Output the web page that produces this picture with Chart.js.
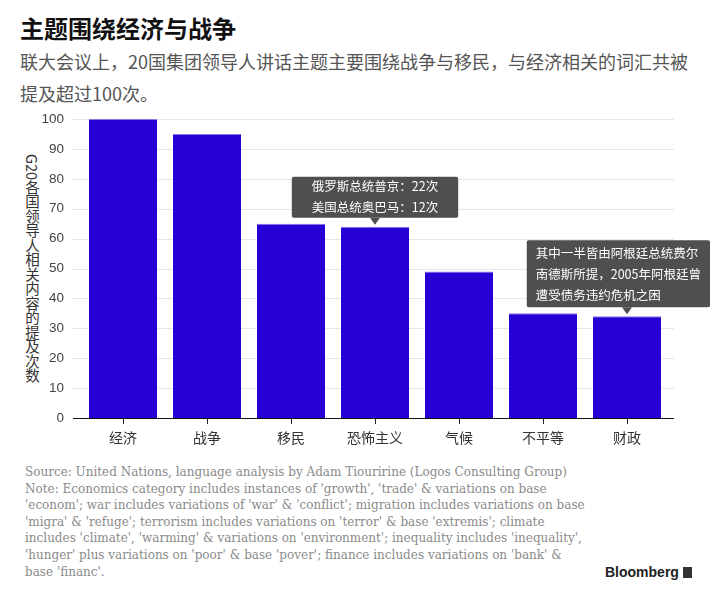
<!DOCTYPE html>
<html>
<head>
<meta charset="utf-8">
<script src="https://cdn.jsdelivr.net/npm/chart.js@4"></script>
<style>
  body { margin: 0; background: #fff; width: 720px; height: 607px; position: relative; overflow: hidden;
         font-family: "Noto Sans CJK SC", "Liberation Sans", sans-serif; }
  #title { position: absolute; left: 20px; top: 10px; font-size: 24px; font-weight: bold; color: #111; }
  #subtitle { position: absolute; left: 20px; top: 45px; font-size: 18px; line-height: 32px; color: #555; }
  #ytitle { position: absolute; left: 22px; top: 154px; writing-mode: vertical-rl; font-size: 14.5px; color: #333; }
  #wrap { position: absolute; left: 0; top: 100px; width: 720px; height: 360px; }
  #notes { position: absolute; left: 25px; top: 464px; font-family: "DejaVu Serif", serif; font-size: 12px;
           line-height: 16.6px; color: #8a8a8a; white-space: pre; }
  #logo { position: absolute; left: 605px; top: 564px; font-family: "Liberation Sans", sans-serif; font-weight: bold;
          font-size: 14px; color: #222; }
  #logo span { display: inline-block; width: 9px; height: 11px; background: #333; margin-left: 4px; vertical-align: -1px; }
</style>
</head>
<body>
<div id="title">主题围绕经济与战争</div>
<div id="subtitle">联大会议上，20国集团领导人讲话主题主要围绕战争与移民，与经济相关的词汇共被<br>提及超过100次。</div>
<div id="ytitle">G20各国领导人相关内容的提及次数</div>
<div id="wrap"><canvas id="barChart"></canvas></div>
<div id="notes">Source: United Nations, language analysis by Adam Tiouririne (Logos Consulting Group)
Note: Economics category includes instances of 'growth', 'trade' &amp; variations on base
'econom'; war includes variations of 'war' &amp; 'conflict'; migration includes variations on base
'migra' &amp; 'refuge'; terrorism includes variations on 'terror' &amp; base 'extremis'; climate
includes 'climate', 'warming' &amp; variations on 'environment'; inequality includes 'inequality',
'hunger' plus variations on 'poor' &amp; base 'pover'; finance includes variations on 'bank' &amp;
base 'financ'.</div>
<div id="logo">Bloomberg<span></span></div>
<script>
const categories = ["经济", "战争", "移民", "恐怖主义", "气候", "不平等", "财政"]
const mentions = [100, 95, 65, 64, 49, 35, 34]
const yTicks = [0, 10, 20, 30, 40, 50, 60, 70, 80, 90, 100]

const calloutIndex = [3, 6]
const calloutText = [
  ["俄罗斯总统普京：22次", "美国总统奥巴马：12次"],
  ["其中一半皆由阿根廷总统费尔", "南德斯所提，2005年阿根廷曾", "遭受债务违约危机之困"]
]

// horizontal grid lines, a bit wider than the bars
const gridLines = {
  id: 'gridLines',
  beforeDatasetsDraw(chart) {
    const { ctx, chartArea, scales } = chart
    ctx.save()
    ctx.strokeStyle = '#e6e6e6'
    ctx.lineWidth = 1
    yTicks.forEach(v => {
      if (v === 0) return
      const y = Math.round(scales.y.getPixelForValue(v)) + 0.5
      ctx.beginPath()
      ctx.moveTo(chartArea.left - 8, y)
      ctx.lineTo(chartArea.right + 5, y)
      ctx.stroke()
    })
    ctx.restore()
  },
  afterDatasetsDraw(chart) {
    const { ctx, chartArea, scales } = chart
    const y = Math.round(scales.y.getPixelForValue(0)) + 0.5
    ctx.save()
    ctx.strokeStyle = '#111'
    ctx.beginPath()
    ctx.moveTo(chartArea.left - 8, y)
    ctx.lineTo(chartArea.right + 5, y)
    ctx.stroke()
    ctx.restore()
  }
}

// dark callout boxes pointing at a bar
const callouts = {
  id: 'callouts',
  afterDraw(chart) {
    const { ctx } = chart
    const meta = chart.getDatasetMeta(0)
    ctx.save()
    ctx.font = '12.5px "Noto Sans CJK SC", sans-serif'
    calloutIndex.forEach((idx, n) => {
      const bar = meta.data[idx]
      const lines = calloutText[n]
      const padX = n === 0 ? 20 : 9
      const lineH = 21
      const textW = Math.max(...lines.map(l => ctx.measureText(l).width))
      const w = textW + padX * 2
      const h = lines.length * lineH - (n === 0 ? 1 : -4)
      const tipY = bar.y - 2
      const bottom = tipY - 7
      let left = bar.x - w / 2
      if (left + w > chart.width - 10) left = chart.width - 10 - w
      const top = bottom - h
      ctx.fillStyle = '#4f4f4f'
      ctx.beginPath()
      ctx.roundRect(left, top, w, h, 2)
      ctx.fill()
      ctx.beginPath()
      ctx.moveTo(bar.x - 5, bottom)
      ctx.lineTo(bar.x + 5, bottom)
      ctx.lineTo(bar.x, tipY)
      ctx.closePath()
      ctx.fill()
      ctx.fillStyle = '#fff'
      ctx.textBaseline = 'middle'
      lines.forEach((l, i) => {
        ctx.fillText(l, left + padX, top + h / 2 + (i - (lines.length - 1) / 2) * lineH)
      })
    })
    ctx.restore()
  }
}

const ctx = document.getElementById('barChart').getContext('2d')
const myBarChart = new Chart(ctx, {
  type: 'bar',
  data: {
    labels: categories,
    datasets: [{
      data: mentions,
      backgroundColor: '#2700d5',
      borderColor: '#8576e6',
      borderWidth: { top: 1, left: 0, right: 0, bottom: 0 },
      barPercentage: 0.81,
      categoryPercentage: 1.0
    }]
  },
  options: {
    responsive: true,
    maintainAspectRatio: false,
    animation: false,
    layout: { padding: { top: 19, right: 51, left: 0, bottom: 0 } },
    plugins: {
      legend: { display: false },
      tooltip: { enabled: false }
    },
    scales: {
      x: {
        afterFit: s => { s.height = 42 },
        grid: { drawOnChartArea: false, drawTicks: true, tickLength: 6, tickColor: '#222', offset: false },
        border: { display: false },
        ticks: { color: '#333', padding: 5, font: { size: 14, family: '"Noto Sans CJK SC", sans-serif' } }
      },
      y: {
        min: 0,
        max: 100,
        afterFit: s => { s.width = 81 },
        afterBuildTicks: s => { s.ticks = yTicks.map(v => ({ value: v })) },
        grid: { display: false },
        border: { display: false },
        ticks: { color: '#444', padding: 9, font: { size: 13.5, family: '"Liberation Sans", sans-serif' } }
      }
    }
  },
  plugins: [gridLines, callouts]
})
</script>
</body>
</html>
